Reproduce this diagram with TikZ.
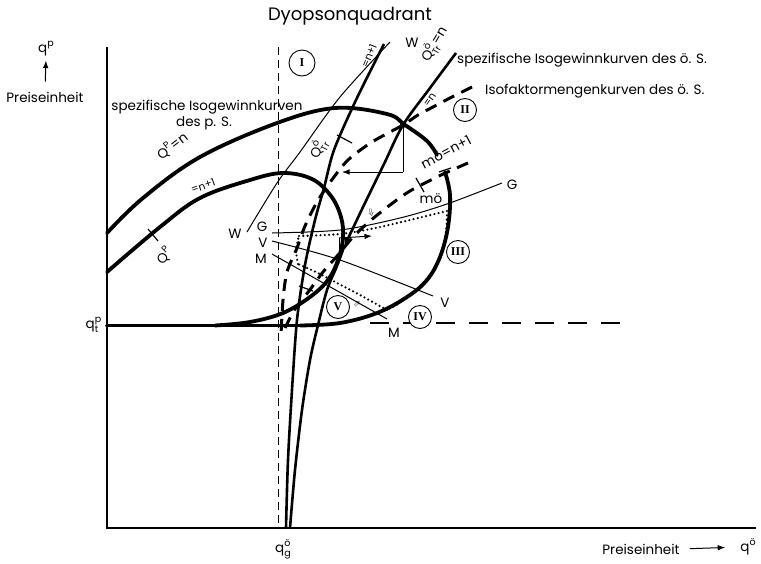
\documentclass[tikz,border=0pt]{standalone}
\usepackage{fontspec}
\setmainfont{Poppins}
\newfontfamily\numfont{Liberation Serif}
\usetikzlibrary{arrows.meta}
\newcommand{\hoch}[1]{\raisebox{0.8ex}{\fontsize{9.5}{9.5}\selectfont #1}}
\newcommand{\hochtief}[2]{\rlap{\raisebox{0.85ex}{\fontsize{9.5}{9.5}\selectfont #1}}\raisebox{-0.55ex}{\fontsize{9.5}{9.5}\selectfont #2}}

\begin{document}
\begin{tikzpicture}[x=1pt,y=-1pt,>=Latex,
  every node/.style={font=\fontsize{13.5}{15}\selectfont,inner sep=1pt},
  small/.style={font=\fontsize{10.5}{11}\selectfont},
  axis/.style={line width=1.8pt},
  profit/.style={line width=3.8pt,line cap=round},
  trline/.style={line width=2.6pt},
  thinline/.style={line width=1pt},
  isofak/.style={line width=3pt,dash pattern=on 12pt off 8pt},
  dotline/.style={line width=2.4pt,dash pattern=on 0pt off 4.3pt,line cap=round},
  tick/.style={line width=1.2pt},
  region/.style={circle,draw,fill=white,line width=0.9pt,minimum size=23pt,inner sep=0pt,
    font=\numfont\bfseries\fontsize{12}{12}\selectfont}]
\useasboundingbox (0,0) rectangle (761,563);

\coordinate (ytop) at (107,47);
\coordinate (O) at (107,528);
\coordinate (xend) at (756,528);
\coordinate (gtop) at (278,47);
\coordinate (gbot) at (278,528);
\draw[axis] (ytop) -- (O) -- (xend);
\draw[thinline,dash pattern=on 8pt off 5pt] (gtop) -- (gbot);

\node (title) at (350,16) {\fontsize{18}{20}\selectfont Dyopsonquadrant};
\node (qp) at (46,49) {q\hoch{p}};
\node (pe1) at (45,97) {Preiseinheit};
\draw[->,thinline,shorten <=9pt,shorten >=3pt] (pe1.north) -- (qp.south);
\node (pe2) at (641,549) {Preiseinheit};
\node (qo) at (748,547) {q\hoch{ö}};
\draw[->,thinline,shorten <=9pt,shorten >=14pt] (pe2.east) -- (qo.west);
\node (qt) at (92,325) {q\hochtief{p}{t}};
\node (qg) at (283,549) {q\hochtief{ö}{g}};

% Isogewinnkurven p. S.
\draw[profit] plot[smooth,tension=0.6] coordinates {(107,233) (143,198) (200,157) (277,123) (335,108) (387,114) (405,125) (427,141) (437,155)};
\draw[profit] plot[smooth,tension=0.6] coordinates {(445,172) (450,195) (448,227) (440,257) (427,280) (407,297) (377,313) (340,323) (300,325.5)};
\draw[profit] (300,325.5) -- (107,325.5);
\draw[profit] plot[smooth,tension=0.6] coordinates {(107,272) (160,227) (200,198) (250,180) (283,173) (312,179) (331,196) (341,217) (343,238) (338,260) (328,280) (310,297) (283,313) (250,322) (215,325.5)};

% Q_Tr lines
\draw[trline] plot[smooth] coordinates {(286,528) (288,460) (292,390) (297,320) (305,265) (315,220) (324,188) (334,150) (356,100) (384,44)};
\draw[trline,-{Latex[length=9pt,width=7pt]}] plot[smooth] coordinates {(456,53) (430,88) (403,125) (384,164) (364,205) (344,247)};
\draw[trline] plot[smooth] coordinates {(344,247) (337,266) (327,290) (318,325) (310,360) (302,410) (295,470) (290,528)};

% Isofaktormengenkurven
\draw[isofak] plot[smooth] coordinates {(472,87) (450,98) (433,107) (418,115) (403,125) (372,142) (348,160) (331,181) (317,202) (305,226) (297,248) (287,272) (283,300) (281,335)};
\draw[isofak] plot[smooth] coordinates {(468,163) (452,170) (437,177) (410,191) (390,205) (370,221) (353,237) (338,255) (323,272) (309,291) (295,309) (285,328)};

% W, G, V, M
\draw[thinline] plot[smooth] coordinates {(247,232) (277,183) (300,152) (340,97) (390,42)};
\draw[thinline] plot[smooth] coordinates {(272,233) (340,230) (400,218) (447,204) (502,183)};
\draw[thinline] plot[smooth] coordinates {(272,241) (340,260) (433,296)};
\draw[thinline] plot[smooth] coordinates {(272,254) (387,319)};
\node (lW1) at (235,234) {W};
\node (lW2) at (412,43) {W};
\node (lG1) at (262,227) {G};
\node (lG2) at (512,185) {G};
\node (lV1) at (263,243) {V};
\node (lV2) at (445,303) {V};
\node (lM1) at (261,259) {M};
\node (lM2) at (394,333) {M};

% Verhandlungsbereich
\draw[dotline] plot[smooth] coordinates {(299,236) (340,234) (380,227) (447,211)}
  plot[smooth] coordinates {(447,211) (446,232) (441,255) (432,272) (418,288) (401,302) (387,310)}
  plot[smooth] coordinates {(387,310) (360,295) (337,283) (318,273) (298,264)}
  plot[smooth] coordinates {(298,264) (296,250) (299,236)};

% P and Q
\coordinate (P) at (403,125);
\coordinate (Pd) at (403,172);
\coordinate (Pl) at (342,172);
\draw[thinline] (P) -- (Pd);
\draw[thinline,->] (Pd) -- (Pl);
\coordinate (Q) at (339,258);
\coordinate (Qu) at (339,238);
\coordinate (Qr) at (372,236);
\draw[thinline] (Q) -- (Qu);
\draw[thinline,->] (Qu) -- (Qr);
\fill (P) circle (3pt);
\fill (Q) circle (1.6pt);

% dashed level
\coordinate (d1) at (370,323);
\coordinate (d2) at (620,323);
\draw[line width=1.8pt,dash pattern=on 19pt off 14pt] (d1) -- (d2);

% ticks
\draw[tick] (148,229) -- (158,241);
\draw[tick] (337,135) -- (352,143);
\draw[tick] (416,178) -- (424,192);
\draw[tick] (439,172) -- (451,168);
\draw[tick] (299,286) -- (313,291);

% curve labels
\node (spp) at (207,107) {spezifische Isogewinnkurven};
\node (spp2) at (204,123) {des p. S.};
\node[anchor=west] (spo) at (456,60) {spezifische Isogewinnkurven des ö. S.};
\node[anchor=west] (ifo) at (484,91) {Isofaktormengenkurven des ö. S.};
\node[rotate=38] (lqpn) at (172,146) {Q\hoch{P}=n};
\node[rotate=20,small] (lqp1) at (203,186) {=n+1};
\node[rotate=45] (lqp) at (164,256) {Q\hoch{P}};
\node[rotate=62] (ltr) at (318,149) {Q\hochtief{ö}{Tr}};
\node[rotate=68,small] (ltr1) at (369,56) {=n+1};
\node[rotate=60] (ltrn) at (434,44) {Q\hochtief{ö}{Tr}=n};
\node[rotate=55,small,inner sep=0pt] (lisn) at (430,100) {=n};
\node[rotate=28] (lmo1) at (446,152) {mö=n+1};
\node (lmo) at (431,199) {mö};
\node[rotate=15,font=\fontsize{9}{9}\selectfont] (sym1) at (371,213) {$\Downarrow$};
\node[rotate=-45,font=\fontsize{8}{8}\selectfont] (sym2) at (357,304) {$\Uparrow$};

% regions
\node[region,minimum size=26pt] (r1) at (302,63) {I};
\node[region] (r2) at (465,110) {II};
\node[region] (r3) at (458,252) {III};
\node[region] (r4) at (420,317) {IV};
\node[region] (r5) at (338,307) {V};
\end{tikzpicture}
\end{document}
